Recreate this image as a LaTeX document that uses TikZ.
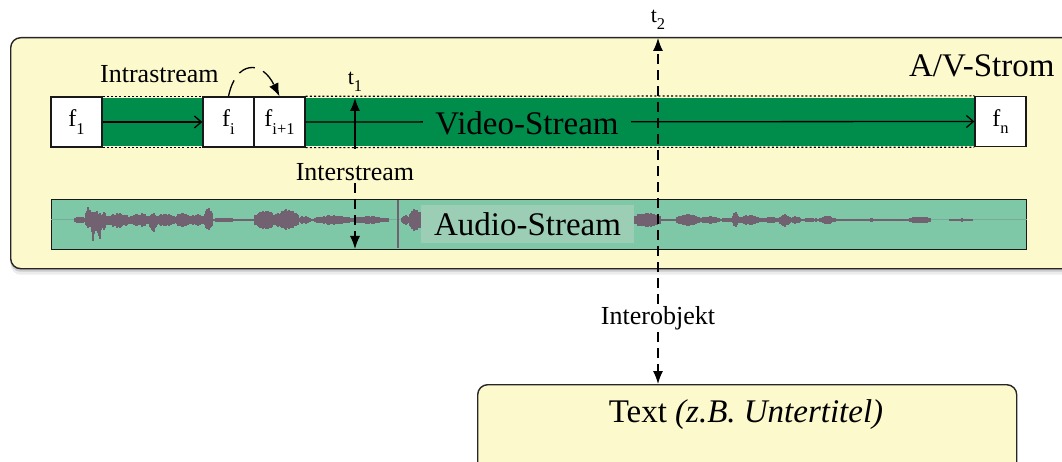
\documentclass[tikz,border=0pt]{standalone}
\usepackage{fontspec}
\setmainfont{Liberation Serif}
\usetikzlibrary{arrows.meta,shadows}

\definecolor{avyellow}{RGB}{252,249,204}
\definecolor{videogreen}{RGB}{0,140,75}
\definecolor{audioteal}{RGB}{127,200,167}
\definecolor{audiolabel}{RGB}{156,206,182}
\definecolor{wavegrey}{RGB}{113,97,113}
\definecolor{zerogrey}{RGB}{118,172,150}

% lowered small index, as in f_1 or t_2
\newcommand{\lowidx}[1]{\raisebox{-0.3em}{\fontsize{16.5}{16.5}\selectfont #1}}

\begin{document}
\begin{tikzpicture}[x=1pt,y=-1pt,
  avbox/.style={draw=black!85, line width=1.4pt, rounded corners=10pt, fill=avyellow,
    drop shadow={shadow xshift=0pt, shadow yshift=-3pt, opacity=0.25, fill=black!60},
    drop shadow={shadow xshift=0pt, shadow yshift=-6pt, opacity=0.12, fill=black!60}},
  frame/.style={draw=black!90, line width=1.3pt, fill=white, minimum width=51pt,
    minimum height=50pt, inner sep=0pt, font=\fontsize{24}{26}\selectfont},
  lbl/.style={font=\fontsize{26}{30}\selectfont, inner sep=2pt},
  tlbl/.style={font=\fontsize{22}{24}\selectfont, inner sep=0pt},
  big/.style={font=\fontsize{33}{36}\selectfont},
  dotline/.style={line width=1.2pt, dash pattern=on 2pt off 2.2pt},
  dasharrow/.style={line width=1.3pt, dash pattern=on 10pt off 6pt,
    -{Latex[length=13pt,width=10pt]}},
  solidarrow/.style={line width=1.3pt, -{Latex[length=13pt,width=10pt]}},
  flow/.style={line width=1.3pt, -{Straight Barb[length=7pt,width=12pt]}},
  wave/.style={draw=wavegrey, line width=1.3pt},
]
\useasboundingbox (0,0) rectangle (1062,462);

% ---------- A/V stream container ----------
\node[avbox, anchor=north west, minimum width=1075pt, minimum height=231pt]
  (av) at (10,37) {};
\node[big, anchor=east] (avname) at (1058,66) {A/V-Strom};

% ---------- video stream ----------
\fill[videogreen] (102,98) rectangle (975,146);
\node[frame] (f1)  at (76.5,122) {f\lowidx{1}};
\node[frame] (fi)  at (228.5,122) {f\lowidx{i}};
\node[frame] (fi1) at (279.5,122) {f\lowidx{i+1}};
\node[frame] (fn)  at (1000.5,121.5) {f\lowidx{n}};
\draw[dotline] (f1.north east) -- (fi.north west);
\draw[dotline] (f1.south east) -- (fi.south west);
\draw[dotline] (fi1.north east) -- (fn.north west);
\draw[dotline] (fi1.south east) -- (fn.south west);
\draw[flow] (f1) -- (fi);
\draw[flow] (fi1) -- (fn);
\node[big, fill=videogreen, inner xsep=12pt, inner ysep=2pt] (video) at (527,123) {Video-Stream};

% intrastream relation
\node[lbl, anchor=west] (intra) at (98,74) {Intrastream};
\draw[line width=1.3pt, dash pattern=on 17pt off 9pt, -{Latex[length=13pt,width=10pt]}]
  (fi.north) .. controls (236,60) and (262,60) .. (fi1.north);

% ---------- audio stream ----------
\node[draw=black!90, line width=1.3pt, fill=audioteal, anchor=north west,
  minimum width=975pt, minimum height=50pt, inner sep=0pt] (audio) at (51,199) {};
\draw[zerogrey, line width=1pt] (audio.west |- 0,220) -- (audio.east |- 0,220);
\pgfmathsetseed{17}
\foreach \xa/\xb/\up/\dn in {
   75/86/4/4, 86/92/14/9, 92/94/9/23, 94/98/10/13, 98/101/8/21, 101/106/9/11,
   106/130/7/8, 130/150/7/7, 150/157/7/12, 157/175/7/7, 175/190/7/7, 190/205/6/6,
   205/212/13/11, 212/235/2.5/2.5, 235/255/1.5/1.5, 255/275/10/10, 275/298/11/10,
   298/310/4/4, 310/315/1.5/1.5, 315/350/5/5, 350/388/4/4, 402/410/5/5, 410/421/12/12,
   634/660/8/8, 660/676/1.5/1.5, 677/700/6/6, 700/720/4/4, 720/733/2.5/2.5,
   733/738/9/7, 738/760/5/5, 760/780/3/3, 780/790/6/7, 790/800/4/4, 800/820/2/2,
   820/835/4/4, 835/910/1.6/1.6, 910/930/4/4, 950/972/1.6/1.6}{
  \foreach \x in {\xa,...,\xb}{
    \pgfmathsetmacro\env{0.45+0.55*sin(180*(\x-\xa+0.5)/(\xb-\xa+1))}
    \pgfmathsetmacro\rr{0.7+0.3*rnd}
    \draw[wave] (\x,{220-\up*\env*\rr}) -- (\x,{220+\dn*\env*\rr});
  }
}
\draw[wave, line width=1.2pt] (398,200) -- (398,248);
\node[big, fill=audiolabel, minimum width=213pt, minimum height=38pt, inner sep=0pt]
  (audiolbl) at (527.5,224) {Audio-Stream};

% ---------- interstream synchronisation at t1 ----------
\node[tlbl] (t1) at (355,82) {t\lowidx{1}};
\node[lbl] (inter) at (355,172) {Interstream};
\coordinate (t1top) at (355,98);
\coordinate (t1bot) at (355,249);
\draw[solidarrow, shorten <=1pt] (inter.north |- 0,150) -- (t1top);
\draw[dasharrow] (inter.south) -- (t1bot);

% ---------- interobject synchronisation at t2 ----------
\node[tlbl] (t2) at (658,20) {t\lowidx{2}};
\node[lbl] (interobj) at (658,318) {Interobjekt};
\coordinate (t2top) at (658,38);

% subtitle object
\node[avbox, anchor=north west, minimum width=539pt, minimum height=110pt]
  (subs) at (477,384) {};
\node[big] (substext) at (746,415) {Text \textit{(z.B. Untertitel)}};

\draw[dasharrow] (interobj.north) -- (t2top);
\draw[dasharrow] (interobj.south) -- (interobj.south |- subs.north);
\end{tikzpicture}
\end{document}
